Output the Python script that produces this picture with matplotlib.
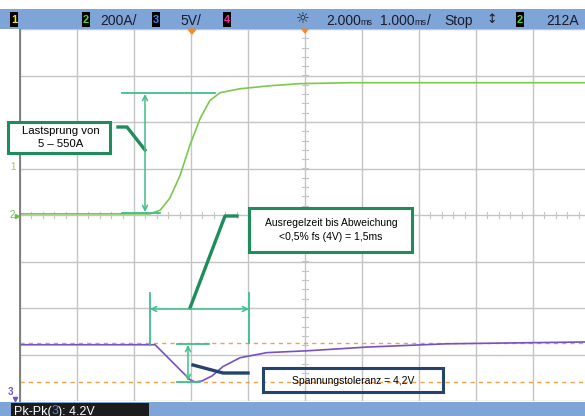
"""Oscilloscope capture: load step 5 -> 550 A and resulting output voltage dip.

Main axes uses scope units: x in ms (1 ms/div, 0 = screen centre),
y in divisions (8 div high). A full-figure overlay in pixel coordinates
carries the status bars and the hand-drawn annotation boxes.
"""

import matplotlib

matplotlib.use("Agg")

import matplotlib.pyplot as plt
import numpy as np
from matplotlib.patches import Polygon, Rectangle

W, H = 585, 416

# ---- data -----------------------------------------------------------------
# channel 2: load current, 200 A/div
cur_t = [-5.0, -2.72, -2.54, -2.37, -2.19, -2.02, -1.84, -1.67, -1.49,
         -1.14, -0.61, -0.09, 0.79, 4.95]
cur_a = [5, 5, 21, 73, 171, 300, 415, 492, 526, 543, 556, 565, 569, 569]

# channel 3: output voltage deviation vs. upper cursor, 5 V/div
volt_t = [-5.0, -2.63, -2.28, -2.02, -1.93, -1.81, -1.63, -1.44, -1.14,
          -0.67, 0.04, 1.09, 2.49, 4.95]
volt_dv = [-0.2, -0.2, -2.35, -3.95, -4.2, -4.1, -3.55, -2.55, -1.6,
           -1.05, -0.85, -0.45, -0.1, 0.1]

CUR_SCALE = 200.0       # A/div
VOLT_SCALE = 5.0        # V/div
VOLT_REF_DIV = -2.75    # screen position of the upper cursor
TOLERANCE_V = 4.2       # Pk-Pk(3)

# status bar runs: list of (text, fontsize) pieces, and their left x
TOP_ITEMS = [
    ([("200A/", 10)], 100),
    ([("5V/", 10)], 180),
    ([("2.000", 10), ("ms", 6.5)], 326),
    ([("1.000", 10), ("ms", 6.5), ("/", 10)], 380),
    ([("Stop", 10)], 444),
    ([("212A", 10)], 546),
]
CH_BOXES = [("1", 10, "#f2e830"), ("2", 82, "#5ad03c"), ("3", 152, "#4a86e8"),
            ("4", 223, "#f0309a"), ("2", 516, "#5ad03c")]

# ---- styling ---------------------------------------------------------------
BAR = "#7fa5d8"
GRID = "#c4c4c4"
GREEN_TRACE = "#7cc84e"
PURPLE_TRACE = "#7650c4"
CURSOR = "#f2a048"
ANN_GREEN = "#1f8c5c"
ARROW_GREEN = "#3fbf8c"
ANN_NAVY = "#24446e"
TXT_DARK = "#1a1a2a"

plt.rcParams["font.family"] = ["Liberation Sans", "DejaVu Sans"]

fig = plt.figure(figsize=(W / 100, H / 100), dpi=100)
fig.patch.set_facecolor("white")

# screen area: x 20..585 px (57 px/div), y 29..401 px (46.5 px/div)
X0, X1, Y0, Y1 = 20, 585, 29, 401
PX_DIV = 57.0
ax = fig.add_axes([X0 / W, 1 - Y1 / H, (X1 - X0) / W, (Y1 - Y0) / H])
ax.set_xlim(-5, -5 + (X1 - X0) / PX_DIV)
ax.set_ylim(-4, 4)
ax.set_xticks(np.arange(-5, 5))
ax.set_yticks(np.arange(-4, 5))
ax.grid(True, color=GRID, lw=1.0)
ax.tick_params(length=0, labelbottom=False, labelleft=False)
for side in ("top", "right", "bottom"):
    ax.spines[side].set_visible(False)
ax.spines["left"].set_color("#777777")
ax.spines["left"].set_linewidth(1.3)

# minor graticule ticks on the centre lines
for v in np.arange(-5, 5, 0.2):
    ax.plot([v, v], [-0.06, 0.06], color=GRID, lw=0.8)
for v in np.arange(-4, 4, 0.2):
    ax.plot([-0.06, 0.06], [v, v], color=GRID, lw=0.8)

# cursors
ax.axhline(VOLT_REF_DIV, color=CURSOR, lw=1.0, ls=(0, (3, 3)))
ax.axhline(VOLT_REF_DIV - TOLERANCE_V / VOLT_SCALE, color=CURSOR, lw=1.0,
           ls=(0, (3, 3)))

# traces
ax.plot(cur_t, np.array(cur_a) / CUR_SCALE, color=GREEN_TRACE, lw=1.2)
ax.plot(volt_t, VOLT_REF_DIV + np.array(volt_dv) / VOLT_SCALE,
        color=PURPLE_TRACE, lw=1.2)

# ---- overlay in pixel coordinates ------------------------------------------
ov = fig.add_axes([0, 0, 1, 1])
ov.set_xlim(0, W)
ov.set_ylim(H, 0)
ov.axis("off")
renderer = fig.canvas.get_renderer()


def put_run(x, y, pieces, va="center"):
    """Draw text pieces side by side, each starting where the last ended."""
    for text, size, color in pieces:
        t = ov.text(x, y, text, fontsize=size, color=color, va=va)
        bb = t.get_window_extent(renderer=renderer)
        x += bb.width * W / fig.bbox.width


# top status bar
ov.add_patch(Rectangle((0, 9), W, 20, color=BAR, lw=0))
for label, x, col in CH_BOXES:
    ov.add_patch(Rectangle((x, 12), 8, 15, color="black", lw=0))
    ov.text(x + 4, 20, label, color=col, fontsize=8, ha="center",
            va="center", fontweight="bold")
for pieces, x in TOP_ITEMS:
    put_run(x, 25, [(s, f, TXT_DARK) for s, f in pieces], va="baseline")
ov.text(303, 19.5, "☼", fontsize=11, va="center", ha="center",
        color=TXT_DARK, family="DejaVu Sans")
ov.text(492, 19.5, "↕", fontsize=9, va="center", ha="center",
        color=TXT_DARK, family="DejaVu Sans")

# trigger / delay markers
ov.add_patch(Polygon([(188, 29), (196, 29), (192, 34)], color="#f08a30"))
ov.add_patch(Polygon([(302, 29), (308, 29), (305, 33)], color="#f08a30"))

# bottom status bar
ov.add_patch(Rectangle((0, 402), W, 14, color=BAR, lw=0))
ov.add_patch(Rectangle((11, 403), 138, 13, color="#1c1c1c", lw=0))
put_run(14, 414.5, [("Pk-Pk(", 9, "white"), ("3", 9, "#4a86e8"),
                    ("): 4.2V", 9, "white")], va="baseline")

# channel ground markers
ov.text(13, 167, "1", color="#a6c83a", fontsize=7, ha="center", va="center")
ov.text(12, 215, "2", color="#6cc04a", fontsize=7, ha="center", va="center")
ov.plot([17], [216], marker=">", color="#6cc04a", ms=3)
ov.text(10, 392, "3", color=PURPLE_TRACE, fontsize=7, ha="center",
        va="center", fontweight="bold")
ov.plot([15], [399], marker="v", color=PURPLE_TRACE, ms=3)


def dbl_arrow(p, q, color):
    ov.annotate("", xy=q, xytext=p,
                arrowprops=dict(arrowstyle="<->", color=color, lw=1.1,
                                mutation_scale=9, shrinkA=0, shrinkB=0))


def box(x0, y0, x1, y1, color, fill):
    ov.add_patch(Rectangle((x0, y0), x1 - x0, y1 - y0, fill=fill,
                           facecolor="white", edgecolor=color, lw=2.2,
                           zorder=3))


# annotation 1: current step
ov.plot([122, 215], [93, 93], color=ARROW_GREEN, lw=1.3)
ov.plot([122, 160], [213, 213], color=ARROW_GREEN, lw=1.3)
dbl_arrow((145, 94), (145, 212), ARROW_GREEN)
box(8, 122, 110, 153, ANN_GREEN, True)
ov.text(61, 137.5, "Lastsprung von\n5 – 550A", fontsize=8.2, ha="center",
        va="center", linespacing=1.3, zorder=4)
ov.plot([118, 127, 145], [127, 127, 150], color=ANN_GREEN, lw=2.4)

# annotation 2: settling time
ov.plot([150, 150], [293, 345], color=ARROW_GREEN, lw=1.3)
ov.plot([249, 249], [293, 343], color=ARROW_GREEN, lw=1.3)
dbl_arrow((150, 309), (249, 309), ARROW_GREEN)
box(249, 208, 412, 252, ANN_GREEN, True)
ov.text(331, 230, "Ausregelzeit bis Abweichung\n<0,5% fs (4V) = 1,5ms",
        fontsize=7.5, ha="center", va="center", linespacing=1.5, zorder=4)
ov.plot([237, 225, 190], [216, 216, 308], color=ANN_GREEN, lw=2.4)

# annotation 3: voltage tolerance
ov.plot([177, 209], [344, 344], color=ARROW_GREEN, lw=1.3)
ov.plot([177, 200], [382, 382], color=ARROW_GREEN, lw=1.3)
dbl_arrow((188, 345), (188, 381), ARROW_GREEN)
ov.plot([193, 223, 248], [365, 373, 373], color=ANN_NAVY, lw=2.4)
box(263, 368, 443, 392, ANN_NAVY, False)
ov.text(353, 380.5, "Spannungstoleranz = 4,2V", fontsize=7.5, ha="center",
        va="center", zorder=4)

fig.savefig("out.png", dpi=100, facecolor="white")
